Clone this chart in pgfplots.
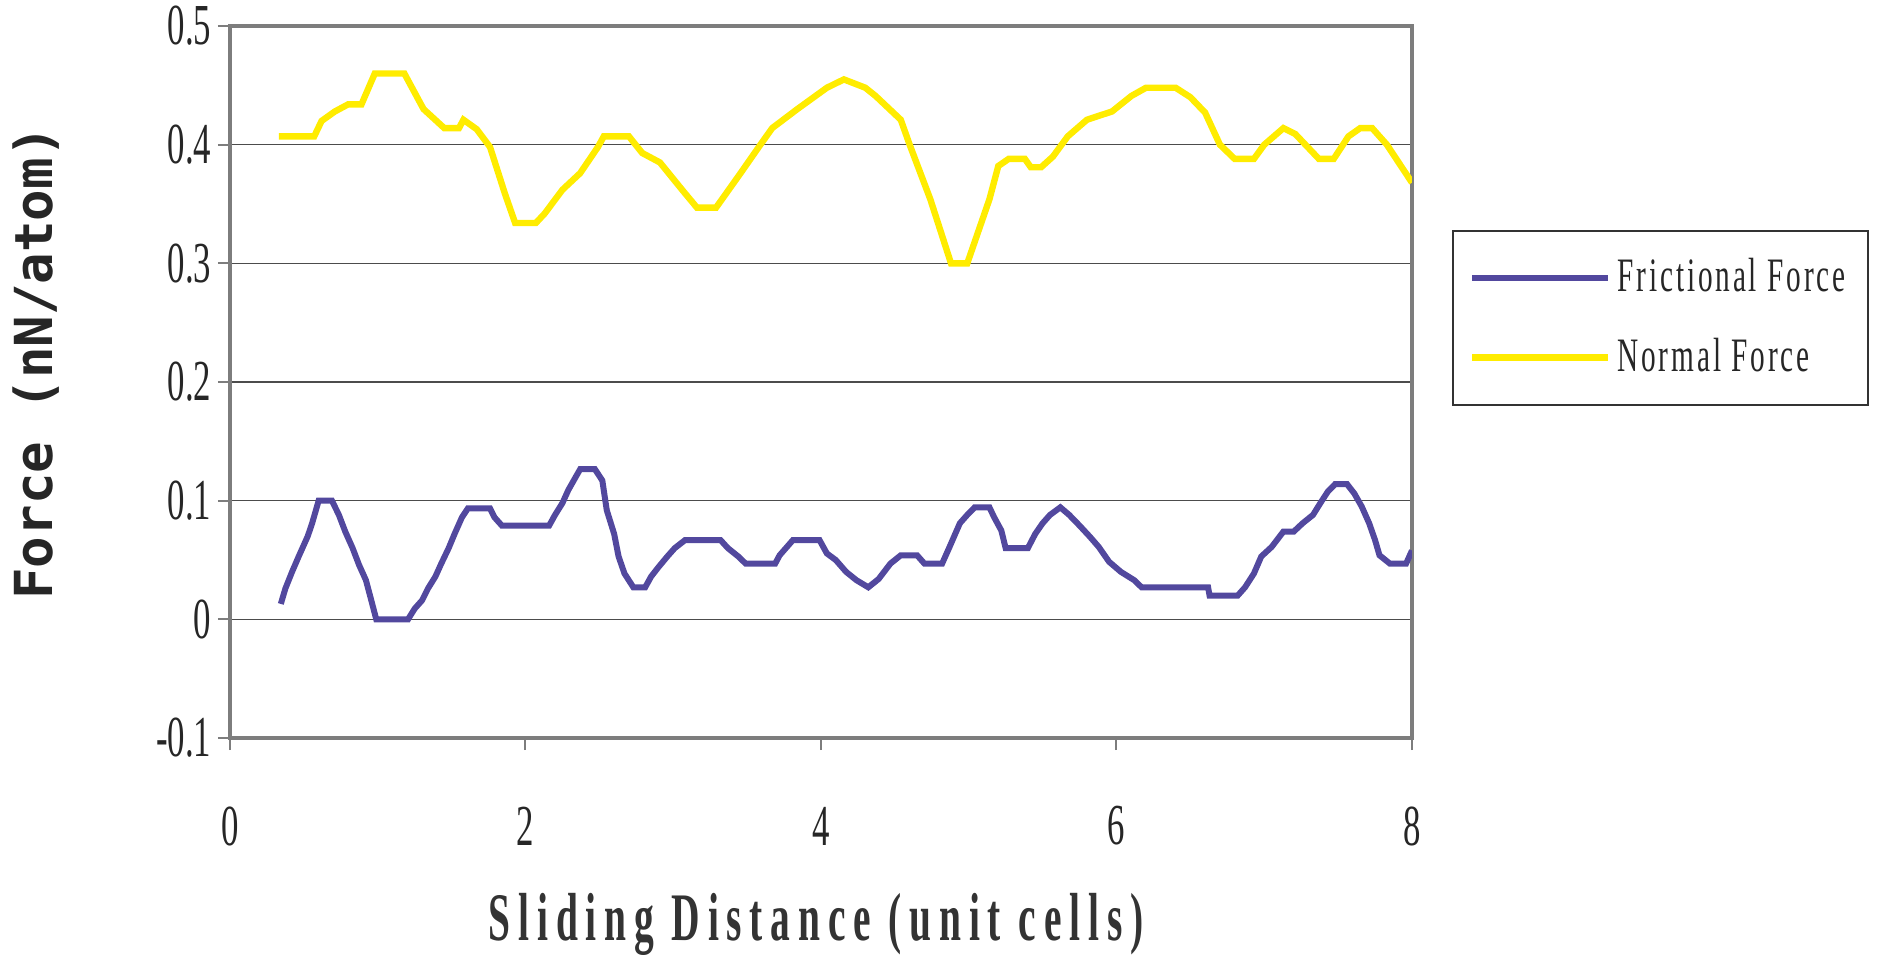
\documentclass[border=0pt]{standalone}
\usepackage{fontspec}
\setmainfont{Liberation Serif}
\newfontfamily\tickfont[FakeStretch=0.6]{Liberation Serif}
\newfontfamily\legfont[FakeStretch=0.61,LetterSpace=6]{Liberation Serif}
\newfontfamily\titlefont[FakeStretch=0.58,LetterSpace=11.5]{Liberation Serif}
\newfontfamily\ylabfont{DejaVu Sans Mono}
\usepackage{pgfplots}
\pgfplotsset{compat=1.18}
\usepackage{pgfplotstable}
\definecolor{fric}{RGB}{82,72,158}
\definecolor{norm}{RGB}{255,236,0}
\definecolor{frame}{RGB}{125,125,125}

\pgfplotstableread{
x y
0.33 0.407
0.57 0.407
0.62 0.420
0.71 0.428
0.80 0.434
0.89 0.434
0.98 0.460
1.18 0.460
1.31 0.430
1.45 0.414
1.55 0.414
1.58 0.421
1.67 0.413
1.76 0.398
1.86 0.359
1.93 0.334
2.07 0.334
2.13 0.342
2.25 0.362
2.37 0.376
2.49 0.398
2.53 0.407
2.70 0.407
2.79 0.393
2.91 0.385
3.06 0.362
3.16 0.347
3.29 0.347
3.45 0.375
3.59 0.400
3.67 0.414
3.84 0.430
4.04 0.448
4.155 0.455
4.30 0.448
4.37 0.441
4.54 0.421
4.60 0.400
4.74 0.354
4.88 0.300
4.99 0.300
5.14 0.354
5.20 0.382
5.27 0.388
5.38 0.388
5.42 0.381
5.49 0.381
5.57 0.390
5.67 0.407
5.80 0.421
5.97 0.428
6.10 0.441
6.20 0.448
6.40 0.448
6.50 0.440
6.60 0.427
6.70 0.400
6.80 0.388
6.93 0.388
7.00 0.400
7.13 0.414
7.21 0.409
7.37 0.388
7.47 0.388
7.57 0.407
7.65 0.414
7.73 0.414
7.83 0.400
8.00 0.368
}\normaltable

\pgfplotstableread{
x y
0.344 0.013
0.375 0.026
0.42 0.040
0.465 0.053
0.526 0.070
0.556 0.081
0.60 0.100
0.69 0.100
0.737 0.088
0.78 0.074
0.83 0.060
0.873 0.046
0.92 0.033
0.95 0.019
0.99 0.000
1.205 0.000
1.25 0.009
1.30 0.016
1.34 0.026
1.39 0.036
1.43 0.047
1.48 0.060
1.52 0.072
1.57 0.086
1.61 0.0935
1.76 0.0935
1.79 0.086
1.84 0.079
2.16 0.079
2.20 0.088
2.25 0.098
2.29 0.109
2.34 0.120
2.37 0.1265
2.47 0.1265
2.52 0.117
2.55 0.092
2.60 0.072
2.63 0.053
2.67 0.0386
2.73 0.027
2.81 0.027
2.85 0.036
2.90 0.044
2.96 0.053
3.01 0.060
3.08 0.0668
3.32 0.0668
3.37 0.060
3.44 0.053
3.49 0.047
3.69 0.047
3.72 0.054
3.81 0.0668
3.99 0.0668
4.04 0.0555
4.10 0.050
4.17 0.040
4.24 0.033
4.32 0.027
4.39 0.034
4.47 0.047
4.54 0.054
4.65 0.054
4.70 0.047
4.82 0.047
4.87 0.061
4.94 0.081
4.99 0.088
5.04 0.0944
5.14 0.0944
5.17 0.0865
5.22 0.075
5.25 0.060
5.40 0.060
5.45 0.072
5.50 0.081
5.55 0.088
5.62 0.0944
5.68 0.088
5.75 0.079
5.82 0.0696
5.88 0.061
5.95 0.0485
6.03 0.040
6.12 0.033
6.17 0.027
6.62 0.027
6.63 0.020
6.82 0.020
6.87 0.027
6.93 0.0386
6.98 0.053
7.05 0.061
7.13 0.074
7.20 0.074
7.26 0.081
7.33 0.088
7.38 0.098
7.43 0.1076
7.48 0.114
7.56 0.114
7.61 0.106
7.66 0.095
7.71 0.081
7.75 0.0668
7.78 0.054
7.85 0.047
7.96 0.047
8.00 0.058
}\frictable

\begin{document}
\begin{tikzpicture}
\path[use as bounding box] (-57.5pt,-54.25pt) rectangle (413pt,184.5pt);
\begin{axis}[
  at={(0,0)}, anchor=south west,
  scale only axis,
  width=295.5pt, height=178pt,
  xmin=0, xmax=8, ymin=-0.1, ymax=0.5,
  xtick={0,2,4,6,8}, xticklabels={0,2,4,6,8},
  ytick={-0.1,0,0.1,0.2,0.3,0.4,0.5},
  yticklabels={-0.1,0,0.1,0.2,0.3,0.4,0.5},
  xtick pos=left, ytick pos=left,
  tick align=outside,
  major tick length=3pt,
  tick style={draw=frame, line width=0.5pt},
  axis line style={draw=frame, line width=0.8pt},
  ymajorgrids,
  major grid style={draw=black!70, line width=0.4pt},
  ticklabel style={font=\tickfont\fontsize{14.5}{16}\selectfont, text=black!85},
  xticklabel style={anchor=center, yshift=-19pt},
  yticklabel style={anchor=east, inner sep=0pt, xshift=-1.5pt},
  xlabel={Sliding Distance (unit cells)},
  xlabel style={at={(axis description cs:0.4958,-0.262)}, anchor=center,
    font=\titlefont\bfseries\fontsize{17}{19}\selectfont, text=black!80},
  ylabel={Force (nN/atom)},
  ylabel style={at={(axis description cs:-0.1641,0.5267)}, anchor=center, rotate=0,
    font=\ylabfont\bfseries\fontsize{13.1}{15}\selectfont, text=black!85},
  legend style={at={(1.0338,0.7135)}, anchor=north west, draw=black!80,
    line width=0.5pt, inner xsep=4pt, inner ysep=5.4pt, row sep=7pt,
    nodes={inner sep=1.5pt},
    font=\legfont\fontsize{12}{14}\selectfont, text=black!85},
  legend cell align=left,
  legend image code/.code={\draw[#1] (0pt,0pt) -- (34pt,0pt);},
]
\addplot[fric, line width=1.5pt] table[x=x,y=y] {\frictable};
\addlegendentry{Frictional Force}
\addplot[norm, line width=1.6pt] table[x=x,y=y] {\normaltable};
\addlegendentry{Normal Force}
\end{axis}
\end{tikzpicture}
\end{document}
